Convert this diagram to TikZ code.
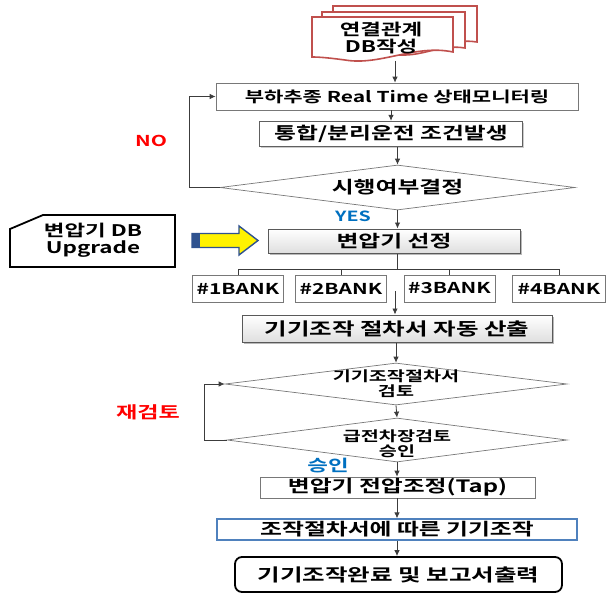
\documentclass[tikz,border=0pt]{standalone}
\usepackage{fontspec}
\newfontfamily\kr{Noto Sans CJK KR Bold}[FakeStretch=1.4]
\usetikzlibrary{shapes.geometric,shadows,arrows.meta}

\definecolor{docred}{RGB}{192,80,77}
\definecolor{lblue}{RGB}{0,112,192}
\definecolor{frameblue}{RGB}{79,129,189}
\definecolor{arrowblue}{RGB}{47,82,143}
\definecolor{lineg}{RGB}{60,60,60}
\definecolor{boxg}{RGB}{120,120,120}
\newcommand{\fsz}[1]{\fontsize{#1}{#1}\selectfont}

\begin{document}
\begin{tikzpicture}[x=1pt,y=-1pt,
  every node/.style={font=\kr},
  flow/.style={draw=lineg, line width=0.8pt, -{Latex[length=6pt,width=5.5pt]}},
  plain/.style={draw=lineg, line width=0.8pt},
  box/.style={draw=boxg, fill=white, line width=0.7pt, inner sep=0pt, align=center},
  sbox/.style={box, draw=gray!70!black, line width=1pt, top color=white, bottom color=gray!25,
     drop shadow={opacity=0.55, shadow xshift=2pt, shadow yshift=-2pt}},
  bank/.style={box, minimum width=91, minimum height=27, font=\kr\fsz{15}},
  dia/.style={diamond, draw=boxg, fill=white, line width=0.7pt, inner sep=0pt},
  dlab/.style={font=\kr\fsz{14}, align=center},
  redlab/.style={text=red, inner sep=0pt},
  bluelab/.style={text=lblue, inner sep=0pt}
]
\useasboundingbox (0,0) rectangle (607,596);

% ---- stacked documents ----
\begin{scope}[draw=docred, line width=1.6pt, fill=white]
\filldraw (333,6) -- (477,6) -- (477,42) .. controls (450,38) and (440,50) .. (420,50) -- (420,40) -- (333,40) -- cycle;
\filldraw (322,12) -- (465,12) -- (465,48) .. controls (440,44) and (425,56) .. (400,55) -- (322,55) -- cycle;
\filldraw (312,17) -- (453,17) -- (453,52) .. controls (415,44) and (380,66) .. (345,60) .. controls (330,58) and (320,57) .. (312,57) -- cycle;
\end{scope}
\node[align=center, font=\kr\fsz{16}, inner sep=0pt] (doc) at (381,38) {연결관계\\[1pt]DB작성};
\coordinate (docb) at (395,61);

% ---- main boxes ----
\node[box, minimum width=362, minimum height=27, font=\kr\fsz{15}] (b1) at (397,96.5) {부하추종 Real Time 상태모니터링};
\node[box, draw=gray!75!black, line width=1.4pt, minimum width=263, minimum height=25, font=\kr\fsz{17},
  drop shadow={opacity=0.4, shadow xshift=1.5pt, shadow yshift=-1.5pt}] (b2) at (391,134) {통합/분리운전 조건발생};
\node[dia, minimum width=355, minimum height=45,
  label={[font=\kr\fsz{17}]center:시행여부결정}] (d1) at (397.5,187.5) {};

\node[sbox, minimum width=252, minimum height=24, font=\kr\fsz{17}] (b3) at (394,241) {변압기 선정};

\node[bank] (k1) at (238,288.5) {\#1BANK};
\node[bank] (k2) at (341,288.5) {\#2BANK};
\node[bank] (k3) at (449.5,288.5) {\#3BANK};
\node[bank, minimum width=93] (k4) at (559,288.5) {\#4BANK};
\coordinate (bankout) at (395,291);

\node[sbox, minimum width=310, minimum height=27, font=\kr\fsz{17.5}] (b4) at (397,328.5) {기기조작 절차서 자동 산출};

\node[dia, minimum width=342, minimum height=42,
  label={[dlab]center:기기조작절차서\\[1pt]검토}] (d2) at (396,384) {};
\node[dia, minimum width=340, minimum height=44,
  label={[dlab, yshift=-4pt]center:급전차장검토\\[1pt]승인}] (d3) at (397,440) {};

\node[box, minimum width=275, minimum height=21, font=\kr\fsz{17}] (b5) at (397.5,487.5) {변압기 전압조정(Tap)};
\node[box, draw=frameblue, line width=1.3pt, minimum width=360, minimum height=21, font=\kr\fsz{17}] (b6) at (397,529.5) {조작절차서에 따른 기기조작};
\node[box, draw=black, line width=1.8pt, rounded corners=7pt, minimum width=327, minimum height=35, font=\kr\fsz{17.5}] (b7) at (398.5,574.5) {기기조작완료 및 보고서출력};

% ---- side card and block arrow ----
\draw[line width=1.8pt] (10,229) -- (43,215) -- (175,215) -- (175,267) -- (10,267) -- cycle;
\node[align=center, font=\kr\fsz{16}, inner sep=0pt] (upg) at (93,240) {변압기 DB\\[1pt]Upgrade};
\filldraw[fill=yellow, draw=arrowblue, line width=1.4pt]
  (192,233.5) -- (239,233.5) -- (239,226) -- (258,240.5) -- (239,255) -- (239,247.5) -- (192,247.5) -- cycle;
\fill[arrowblue] (192,233.5) rectangle (200,247.5);

% ---- labels ----
\node[redlab, font=\kr\fsz{15}] (no) at (151,141) {NO};
\node[bluelab, font=\kr\fsz{14}] (yes) at (353,216) {YES};
\node[redlab, font=\kr\fsz{16.5}] (re) at (148,412) {재검토};
\node[bluelab, font=\kr\fsz{16}] (ok) at (328,466) {승인};

% ---- connectors ----
\draw[flow] (docb) -- (docb |- b1.north);
\draw[flow] (b1.south -| b2.north) -- (b2.north);
\draw[flow] (d1.north |- b2.south) -- (d1.north);
\draw[flow] (d1.west) -- ++(-30,0) |- (b1.west);
\draw[flow] (d1.south) -- (d1.south |- b3.north);
\draw[plain] (d1.south |- b3.south) -- (d1.south |- 0,270);
\draw[plain] (k1.north) -- ++(0,-5) -| (k4.north);
\draw[plain] (k2.north) -- ++(0,-5);
\draw[plain] (k3.north) -- ++(0,-5);
\draw[flow] (bankout) -- (bankout |- b4.north);
\draw[flow] (d2.north |- b4.south) -- (d2.north);
\draw[flow] (d2.south) -- (d3.north);
\draw[flow] (d3.west) -- ++(-22,0) |- (d2.west);
\draw[flow] (d3.south) -- (d3.south |- b5.north);
\draw[flow] (d3.south |- b5.south) -- (d3.south |- b6.north);
\draw[flow] (d3.south |- b6.south) -- (d3.south |- b7.north);
\end{tikzpicture}
\end{document}
